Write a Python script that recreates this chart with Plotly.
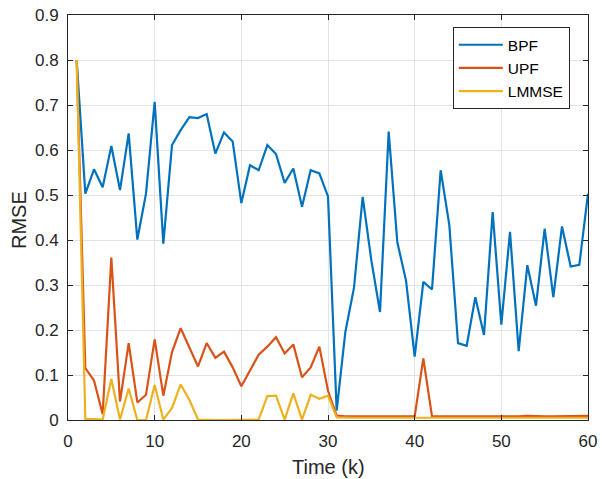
import plotly.graph_objects as go

time_k = list(range(1, 61))

bpf = [0.800, 0.503, 0.557, 0.517, 0.609, 0.511, 0.637, 0.401, 0.503, 0.707,
       0.392, 0.611, 0.644, 0.673, 0.671, 0.680, 0.592, 0.639, 0.619, 0.482,
       0.566, 0.555, 0.611, 0.591, 0.527, 0.559, 0.474, 0.555, 0.548, 0.497,
       0.021, 0.195, 0.294, 0.496, 0.355, 0.240, 0.641, 0.395, 0.310, 0.141,
       0.307, 0.290, 0.555, 0.433, 0.171, 0.165, 0.273, 0.189, 0.462, 0.212,
       0.418, 0.153, 0.344, 0.254, 0.425, 0.273, 0.430, 0.341, 0.345, 0.503]

upf = [0.800, 0.115, 0.088, 0.013, 0.361, 0.041, 0.171, 0.039, 0.056, 0.179,
       0.054, 0.151, 0.204, 0.162, 0.119, 0.171, 0.138, 0.152, 0.117, 0.075,
       0.110, 0.145, 0.163, 0.184, 0.148, 0.168, 0.095, 0.117, 0.163, 0.065,
       0.010, 0.008, 0.008, 0.008, 0.009, 0.008, 0.008, 0.009, 0.008, 0.008,
       0.137, 0.008, 0.008, 0.008, 0.008, 0.007, 0.008, 0.008, 0.008, 0.008,
       0.008, 0.008, 0.009, 0.008, 0.008, 0.008, 0.008, 0.008, 0.008, 0.009]

lmmse = [0.800, 0.002, 0.002, 0.001, 0.091, 0.001, 0.070, 0.000, 0.000, 0.078,
         0.001, 0.027, 0.079, 0.045, 0.001, 0.000, 0.000, 0.000, 0.000, 0.000,
         0.000, 0.001, 0.053, 0.054, 0.001, 0.059, 0.001, 0.056, 0.047, 0.054,
         0.006, 0.005, 0.005, 0.005, 0.005, 0.005, 0.005, 0.005, 0.005, 0.005,
         0.005, 0.005, 0.005, 0.005, 0.005, 0.005, 0.005, 0.005, 0.005, 0.005,
         0.005, 0.005, 0.005, 0.005, 0.005, 0.005, 0.005, 0.005, 0.005, 0.005]

series = [("BPF", bpf, "#0072BD"), ("UPF", upf, "#D95319"), ("LMMSE", lmmse, "#EDB120")]

x_ticks = [0, 10, 20, 30, 40, 50, 60]
y_ticks = [0, 0.1, 0.2, 0.3, 0.4, 0.5, 0.6, 0.7, 0.8, 0.9]
y_tick_labels = ["0", "0.1", "0.2", "0.3", "0.4", "0.5", "0.6", "0.7", "0.8", "0.9"]

FONT = "Liberation Sans, Arial, Helvetica"
W, H = 602, 479
ML, MR, MT, MB = 68, 14, 15, 59

fig = go.Figure()
for name, vals, color in series:
    fig.add_trace(go.Scatter(x=time_k, y=vals, mode="lines", name=name,
                             line=dict(color=color, width=2.2)))

axis_common = dict(showline=True, linecolor="#262626", linewidth=1, mirror="ticks",
                   ticks="inside", ticklen=5, tickcolor="#262626", automargin=False,
                   showgrid=True, gridcolor="#E3E3E3", gridwidth=1, zeroline=False,
                   tickfont=dict(family=FONT, size=17, color="#262626"))

fig.update_layout(
    width=W, height=H,
    margin=dict(l=ML, r=MR, t=MT, b=MB),
    paper_bgcolor="white", plot_bgcolor="white",
    font=dict(family=FONT, color="#262626"),
    xaxis=dict(range=[0, 60], tickvals=x_ticks, ticklabelstandoff=6, **axis_common),
    yaxis=dict(range=[0, 0.9], tickvals=y_ticks, ticktext=y_tick_labels,
               ticklabelstandoff=5, **axis_common),
    legend=dict(x=0.965, y=0.970, xanchor="right", yanchor="top",
                bgcolor="white", bordercolor="#262626", borderwidth=1,
                itemwidth=44,
                font=dict(family=FONT, size=15.5, color="#000000"), tracegroupgap=0),
    showlegend=True,
    annotations=[
        dict(text="Time (k)", xref="paper", yref="paper", x=0.5, y=-(467 - (H - MB)) / (H - MT - MB),
             xanchor="center", yanchor="middle", showarrow=False,
             font=dict(family=FONT, size=20, color="#262626")),
        dict(text="RMSE", xref="paper", yref="paper", x=-(ML - 19) / (W - ML - MR), y=(H - MB - 220) / (H - MT - MB),
             xanchor="center", yanchor="middle", showarrow=False, textangle=-90,
             font=dict(family=FONT, size=20, color="#262626")),
    ],
)

fig.write_html("out.html", config={"displayModeBar": False},
               post_script="document.body.style.margin='0';")
